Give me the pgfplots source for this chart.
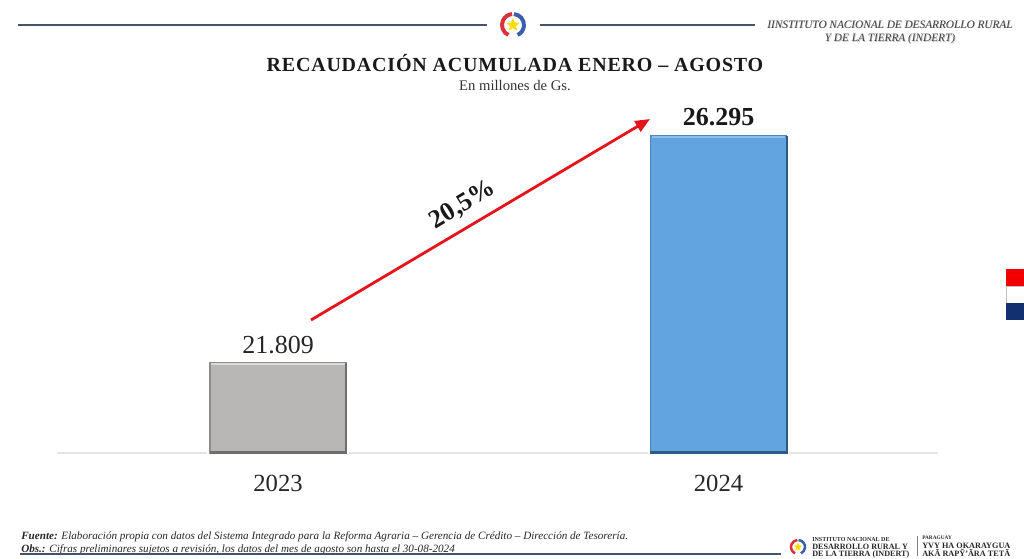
\documentclass[border=0pt]{standalone}
\usepackage{fontspec}
\usepackage{pgfplots}
\usetikzlibrary{arrows.meta,shapes.geometric}
\pgfplotsset{compat=1.18}
\setmainfont{Liberation Serif}
\definecolor{headline}{HTML}{44546A}
\definecolor{barblue}{HTML}{62A4E0}
\definecolor{edgeblue}{HTML}{4F86BC}
\definecolor{darkblue}{HTML}{2F5A85}
\definecolor{lightblue}{HTML}{8DBDE8}
\definecolor{bargray}{HTML}{B9B7B5}
\definecolor{edgegray}{HTML}{8E8D8C}
\definecolor{darkgray}{HTML}{6E6D6C}
\definecolor{lightgray}{HTML}{DAD9D7}
\definecolor{arrowred}{HTML}{E5141B}
\definecolor{logored}{HTML}{D8333A}
\definecolor{logoblue}{HTML}{3A5FAE}
\definecolor{flagblue}{HTML}{12306F}
\newcommand{\fs}[1]{\fontsize{#1}{#1}\selectfont}
\newcommand{\logo}[3]{% x, y, radius
  \draw[logored,line width=#3*0.27pt] (#1,#2)+(115:#3) arc[start angle=115,end angle=265,radius=#3];
  \draw[logoblue,line width=#3*0.27pt] (#1,#2)+(-85:#3) arc[start angle=-85,end angle=65,radius=#3];
  \node[star,star points=5,star point ratio=2.2,fill=yellow!80!orange,inner sep=0pt,minimum size=#3*0.95pt] at (#1,#2) {};
}
\begin{document}
\begin{tikzpicture}
\useasboundingbox (0,0) rectangle (768pt,418.5pt);
\begin{axis}[
    at={(42.75pt,78.75pt)}, anchor=south west,
    scale only axis,
    width=660.75pt, height=264.75pt,
    xmin=-0.5017, xmax=1.4983,
    ymin=20030, ymax=27005,
    axis line style={draw=none},
    axis x line*=bottom,
    hide y axis,
    xtick={0,1},
    xticklabels={2023,2024},
    major tick length=0pt,
    tick label style={font=\fs{18.5}, text=black!85},
    xticklabel style={yshift=-13pt},
    ybar,
    bar shift=0pt,
    bar width=102pt,
    clip=false,
    nodes near coords align={vertical},
    /pgf/number format/assume math mode=true,
    /pgf/number format/1000 sep={.},
]
\addplot[fill=bargray,draw=edgegray,line width=1pt,nodes near coords,
    nodes near coords style={font=\fs{19.5},text=black!85,yshift=3pt}]
    coordinates {(0,21809)};
\addplot[fill=barblue,draw=edgeblue,line width=1pt,nodes near coords,
    nodes near coords style={font=\fs{19.5}\bfseries,text=black!90,yshift=3.5pt}]
    coordinates {(1,26295)};
% bevel edges of the bars
\addplot[sharp plot,forget plot,draw=lightgray,line width=1.2pt]
    coordinates {(-0.152,21785) (0.152,21785)};
\addplot[sharp plot,forget plot,draw=darkgray,line width=1.6pt]
    coordinates {(0.155,21800) (0.155,20040) (-0.155,20040)};
\addplot[sharp plot,forget plot,draw=lightblue,line width=1.2pt]
    coordinates {(0.848,26270) (1.152,26270)};
\addplot[sharp plot,forget plot,draw=darkblue,line width=1.6pt]
    coordinates {(1.155,26285) (1.155,20040) (0.845,20040)};
\end{axis}
\begin{scope}[shift={(0,418.5pt)},x=0.75pt,y=-0.75pt]
% baseline
\begin{scope}[on background layer/.try]
\draw[black!10,line width=0.8pt] (57,453) -- (207,453) (349,453) -- (648,453) (789,453) -- (938,453);
\end{scope}
% growth arrow
\draw[arrowred,line width=2.1pt,-{Triangle[length=11pt,width=9pt]}] (311,320) -- (650,119);
\node[rotate=31,font=\fs{19.5}\bfseries,text=black!90] at (463,205) {20,5\%};
% header
\draw[headline,line width=1pt] (18,25) -- (487,25);
\draw[headline,line width=1pt] (540,25) -- (755,25);
\logo{513}{25}{11}
\node[font=\fs{8.45}\itshape,text=black!25,align=center] at (890.7,33.2) {IINSTITUTO NACIONAL DE DESARROLLO RURAL\\[2pt]Y DE LA TIERRA (INDERT)};
\node[font=\fs{8.45}\itshape,text=black!75,align=center] at (890,32.5) {IINSTITUTO NACIONAL DE DESARROLLO RURAL\\[2pt]Y DE LA TIERRA (INDERT)};
% title
\node[font=\fs{15}\bfseries\addfontfeatures{LetterSpace=4},text=black!90] at (515,63) {RECAUDACIÓN ACUMULADA ENERO – AGOSTO};
\node[font=\fs{11},text=black!80] at (515,86) {En millones de Gs.};
% footer
\node[anchor=base west,inner sep=0pt,font=\fs{8.35}\itshape,text=black!85] at (21,539) {\textbf{Fuente:} Elaboración propia con datos del Sistema Integrado para la Reforma Agraria – Gerencia de Crédito – Dirección de Tesorería.};
\node[anchor=base west,inner sep=0pt,font=\fs{8.35}\itshape,text=black!85] at (21,552) {\textbf{Obs.:} Cifras preliminares sujetos a revisión, los datos del mes de agosto son hasta el 30-08-2024};
\draw[headline,line width=0.8pt] (20,554) -- (781,554);
\logo{798}{547}{7}
\node[anchor=base west,inner sep=0pt,font=\fs{4.5}\bfseries,text=black!85] at (812,541) {INSTITUTO NACIONAL DE};
\node[anchor=base west,inner sep=0pt,font=\fs{6.1}\bfseries,text=black!85] at (812,549) {DESARROLLO RURAL Y};
\node[anchor=base west,inner sep=0pt,font=\fs{6.1}\bfseries,text=black!85] at (812,556) {DE LA TIERRA (INDERT)};
\draw[black!50,line width=0.5pt] (917,536) -- (917,556);
\node[anchor=base west,inner sep=0pt,font=\fs{4}\bfseries,text=black!85] at (922,539) {PARAGUAY};
\node[anchor=base west,inner sep=0pt,font=\fs{6.15}\bfseries,text=black!85] at (922,548) {YVY HA OKARAYGUA};
\node[anchor=base west,inner sep=0pt,font=\fs{6.15}\bfseries,text=black!85] at (922,556) {AKÃ RAPỸ’ÃRA TETÃ};
% flag at the right edge
\fill[red!95!black] (1006,269) rectangle (1024,286);
\fill[white] (1006,286) rectangle (1024,303);
\draw[black!25,line width=0.5pt] (1024,286) -- (1006,286) -- (1006,303) -- (1024,303);
\fill[flagblue] (1006,303) rectangle (1024,320);
\end{scope}
\end{tikzpicture}
\end{document}
